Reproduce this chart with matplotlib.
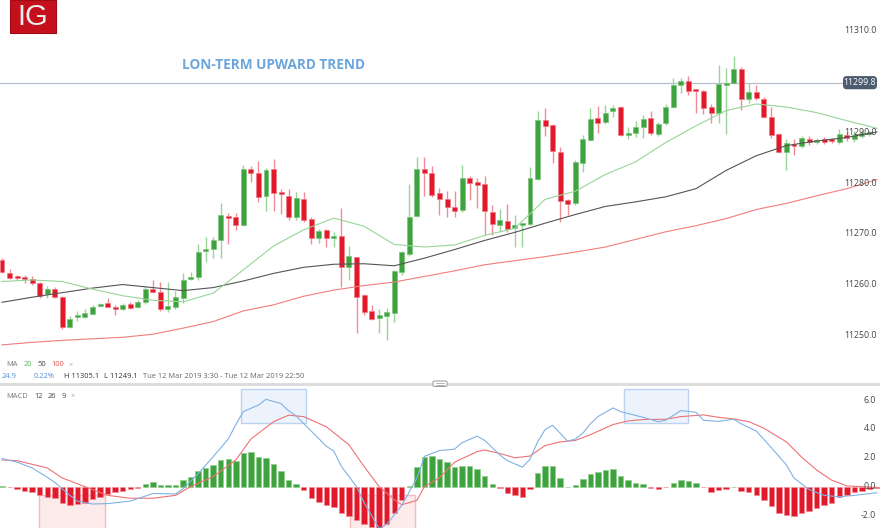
import numpy as np
import matplotlib
matplotlib.use('Agg')
import matplotlib.pyplot as plt
from matplotlib.patches import Rectangle, FancyBboxPatch
from matplotlib.lines import Line2D
import matplotlib.transforms as mtransforms

# ---- price data, one candle per 10 min ----
opens = [11264.8, 11262.3, 11261.5, 11261.5, 11261.1, 11260.3, 11258.1, 11259.1, 11257.5, 11251.6,
         11253.6, 11253.6, 11254.2, 11255.8, 11256.4, 11255.6, 11255.2, 11256.2, 11255.6, 11256.5,
         11259.1, 11258.5, 11255.2, 11255.6, 11257.3, 11261.1, 11261.5, 11266.6, 11267.0, 11268.8,
         11273.5, 11273.3, 11271.7, 11282.8, 11282.0, 11277.5, 11282.8, 11278.0, 11277.5, 11273.3,
         11276.9, 11272.9, 11269.2, 11270.7, 11269.2, 11269.6, 11263.4, 11265.4, 11257.9, 11254.8,
         11253.4, 11253.8, 11254.4, 11262.5, 11266.0, 11273.5, 11282.8, 11282.0, 11278.0, 11276.9,
         11275.3, 11274.7, 11281.0, 11280.2, 11279.8, 11274.3, 11271.7, 11272.5, 11271.1, 11271.7,
         11271.9, 11280.8, 11292.4, 11291.5, 11286.1, 11276.7, 11276.1, 11284.0, 11288.5, 11292.8,
         11292.0, 11294.2, 11295.0, 11289.5, 11289.9, 11291.1, 11292.8, 11289.7, 11291.9, 11295.0,
         11299.4, 11300.1, 11298.4, 11298.2, 11295.0, 11293.8, 11299.4, 11299.7, 11302.5, 11296.6,
         11298.0, 11296.6, 11293.0, 11289.7, 11286.1, 11287.7, 11287.3, 11288.7, 11288.1, 11288.7,
         11288.7, 11288.1, 11289.5, 11288.7, 11289.3, 11289.7]
highs = [11265.2, 11263.1, 11261.9, 11261.9, 11261.7, 11260.5, 11259.7, 11259.5, 11257.7, 11253.8,
         11254.8, 11255.2, 11256.0, 11256.4, 11257.3, 11256.0, 11256.4, 11256.5, 11256.9, 11259.7,
         11260.9, 11260.5, 11260.5, 11258.7, 11262.3, 11262.5, 11268.0, 11269.4, 11269.4, 11276.1,
         11274.1, 11274.1, 11283.6, 11283.4, 11284.4, 11283.0, 11284.8, 11278.8, 11278.8, 11278.2,
         11278.2, 11273.3, 11270.9, 11270.9, 11270.4, 11275.1, 11267.6, 11265.5, 11258.1, 11256.0,
         11255.2, 11255.4, 11262.9, 11266.6, 11279.8, 11285.1, 11285.1, 11283.4, 11279.0, 11278.4,
         11278.4, 11283.6, 11281.4, 11281.0, 11281.4, 11275.7, 11274.9, 11275.9, 11273.7, 11272.2,
         11283.2, 11294.2, 11294.8, 11291.7, 11287.1, 11276.9, 11284.6, 11289.5, 11294.8, 11295.2,
         11295.4, 11295.4, 11295.2, 11291.1, 11292.2, 11293.4, 11294.2, 11292.0, 11295.6, 11300.7,
         11300.7, 11301.1, 11298.6, 11298.4, 11295.6, 11303.3, 11302.7, 11305.1, 11302.9, 11299.7,
         11299.4, 11297.0, 11295.0, 11289.9, 11288.7, 11288.7, 11289.3, 11289.3, 11288.9, 11289.1,
         11288.9, 11290.7, 11290.1, 11290.3, 11290.5, 11290.5]
lows = [11262.3, 11261.1, 11260.9, 11260.3, 11259.9, 11257.3, 11257.3, 11257.3, 11251.2, 11251.4,
        11252.8, 11253.4, 11254.0, 11255.6, 11255.6, 11254.0, 11255.0, 11255.2, 11255.4, 11256.2,
        11258.3, 11254.8, 11254.6, 11255.2, 11256.4, 11260.9, 11260.9, 11264.4, 11265.2, 11265.2,
        11268.0, 11270.7, 11271.5, 11280.2, 11276.3, 11274.5, 11274.5, 11273.9, 11272.7, 11272.7,
        11272.3, 11268.0, 11268.2, 11267.4, 11267.4, 11259.5, 11260.9, 11250.4, 11254.0, 11253.0,
        11250.4, 11249.1, 11252.6, 11261.9, 11265.6, 11273.3, 11277.5, 11277.3, 11273.7, 11273.3,
        11273.3, 11274.3, 11276.7, 11275.1, 11269.8, 11269.8, 11270.4, 11270.4, 11267.4, 11267.4,
        11271.7, 11280.6, 11289.3, 11284.0, 11272.3, 11273.7, 11275.7, 11282.2, 11288.3, 11289.9,
        11291.7, 11293.0, 11289.3, 11288.7, 11289.1, 11288.9, 11289.5, 11289.3, 11291.5, 11294.8,
        11297.8, 11297.4, 11293.8, 11293.6, 11291.9, 11291.9, 11289.7, 11299.5, 11294.4, 11295.8,
        11296.4, 11292.8, 11288.9, 11285.9, 11282.6, 11285.5, 11286.9, 11287.5, 11287.7, 11287.7,
        11287.9, 11287.7, 11288.3, 11288.1, 11288.9, 11289.3]
closes = [11262.5, 11261.3, 11261.3, 11261.1, 11260.3, 11257.7, 11259.1, 11257.5, 11251.6, 11253.2,
          11253.8, 11254.4, 11255.6, 11256.2, 11255.6, 11255.2, 11256.0, 11255.4, 11256.5, 11259.1,
          11258.5, 11255.2, 11255.8, 11257.5, 11260.9, 11261.5, 11266.4, 11267.0, 11268.8, 11273.7,
          11273.1, 11271.7, 11282.8, 11282.0, 11277.3, 11282.6, 11278.0, 11277.8, 11273.3, 11277.1,
          11272.7, 11269.2, 11270.6, 11269.2, 11269.6, 11263.4, 11265.6, 11257.5, 11254.6, 11253.2,
          11254.0, 11254.6, 11262.7, 11266.4, 11273.3, 11282.8, 11282.0, 11277.6, 11276.9, 11275.3,
          11274.5, 11281.0, 11280.0, 11279.6, 11274.5, 11271.9, 11272.7, 11270.9, 11271.7, 11272.1,
          11281.0, 11292.4, 11291.3, 11286.3, 11276.5, 11275.9, 11284.2, 11288.7, 11292.6, 11291.9,
          11293.8, 11294.8, 11289.5, 11289.9, 11291.1, 11292.6, 11289.9, 11291.7, 11295.0, 11299.4,
          11300.1, 11298.2, 11298.2, 11294.8, 11293.8, 11299.5, 11299.7, 11302.5, 11296.6, 11298.0,
          11296.8, 11293.0, 11289.5, 11286.1, 11287.9, 11287.3, 11288.9, 11288.1, 11288.5, 11288.1,
          11288.3, 11289.7, 11288.9, 11289.5, 11289.9, 11290.0]

# moving averages, read every 4 candles
ma_idx = list(range(0, 117, 4))
ma20 = [11260.6, 11260.9, 11260.6, 11259.1, 11257.8, 11256.9, 11256.6, 11258.3, 11262.9, 11267.6,
        11270.8, 11273.1, 11271.5, 11267.9, 11267.4, 11267.8, 11269.7, 11271.1, 11276.8, 11278.4,
        11281.7, 11284.2, 11288.0, 11291.3, 11294.3, 11295.6, 11295.0, 11293.9, 11292.3, 11290.8]
ma50 = [11256.5, 11257.5, 11258.4, 11259.3, 11260.0, 11259.4, 11258.8, 11259.4, 11260.7, 11262.2,
        11263.4, 11264.0, 11264.1, 11263.7, 11265.2, 11266.9, 11268.7, 11270.3, 11272.1, 11273.8,
        11275.4, 11276.3, 11277.3, 11278.9, 11282.5, 11285.4, 11287.4, 11288.3, 11289.0, 11290.1]
ma100 = [11248.1, 11248.6, 11249.0, 11249.3, 11249.6, 11250.2, 11251.4, 11252.7, 11254.8, 11256.0,
         11257.7, 11258.9, 11259.8, 11260.5, 11261.6, 11262.7, 11263.9, 11264.7, 11265.5, 11266.4,
         11267.4, 11268.9, 11270.4, 11271.6, 11273.0, 11274.8, 11276.0, 11277.5, 11278.9, 11280.7]

# MACD (12, 26, 9)
hist = [0.03, -0.05, -0.15, -0.3, -0.4, -0.6, -0.7, -0.75, -1.15, -1.25,
        -1.2, -1.1, -0.85, -0.7, -0.5, -0.4, -0.28, -0.18, -0.1, 0.18,
        0.3, 0.15, 0.12, 0.15, 0.45, 0.65, 1.1, 1.3, 1.5, 1.85,
        1.9, 1.8, 2.3, 2.4, 2.05, 2.0, 1.55, 1.1, 0.45, 0.22,
        -0.23, -0.8, -1.05, -1.3, -1.4, -1.8, -2.05, -2.3, -2.6, -2.8,
        -2.85, -2.6, -1.8, -0.95, 0.05, 1.35, 2.05, 2.1, 1.95, 1.7,
        1.35, 1.45, 1.4, 1.25, 0.75, 0.2, -0.12, -0.45, -0.6, -0.7,
        -0.15, 0.95, 1.45, 1.4, 0.6, 0.0, 0.15, 0.5, 0.9, 1.05,
        1.15, 1.2, 0.75, 0.45, 0.25, 0.18, -0.07, -0.15, -0.03, 0.28,
        0.45, 0.4, 0.28, -0.05, -0.4, -0.23, -0.15, 0.0, -0.28, -0.4,
        -0.6, -0.95, -1.35, -1.8, -1.95, -2.0, -1.8, -1.65, -1.45, -1.3,
        -1.1, -0.7, -0.6, -0.4, -0.28, -0.18, -0.1]
macd_idx = [0, 2, 4, 6, 7, 9, 10, 12, 14, 17, 19, 20, 23, 24, 26, 28, 30, 31, 32, 34, 35, 37, 38, 39,
            41, 43, 44, 45, 47, 48, 50, 51, 53, 55, 56, 58, 60, 61, 63, 64, 66, 67, 69, 70, 71, 72,
            73, 75, 76, 77, 78, 79, 81, 82, 85, 87, 88, 90, 92, 93, 95, 97, 98, 100, 102, 104, 105,
            107, 109, 111, 113, 116]
macd_line = [1.95, 1.7, 1.3, 0.65, 0.3, -0.6, -1.0, -1.2, -1.17, -1.0, -0.65, -0.47, -0.5, -0.15,
             0.9, 2.08, 3.3, 4.3, 5.2, 5.65, 6.05, 5.75, 5.25, 4.9, 3.85, 2.8, 2.45, 1.4, 0.0, -1.1,
             -2.9, -2.6, -1.3, 0.6, 2.1, 2.5, 2.6, 3.05, 3.5, 3.2, 2.2, 1.8, 1.35, 1.9, 3.1, 3.95,
             4.25, 3.15, 3.3, 3.7, 4.35, 4.85, 5.45, 5.2, 4.8, 4.5, 4.6, 5.27, 5.15, 4.6, 4.52, 4.67,
             4.35, 3.85, 2.7, 1.5, 0.6, -0.2, -0.6, -0.7, -0.6, -0.42]
sig_idx = [0, 2, 6, 8, 11, 14, 17, 20, 23, 25, 28, 31, 33, 36, 38, 40, 43, 46, 48, 50, 52, 53, 55,
           56, 58, 60, 63, 64, 66, 68, 70, 72, 74, 76, 78, 81, 83, 85, 88, 90, 93, 95, 97, 99, 101,
           104, 106, 108, 110, 112, 114, 116]
signal = [1.85, 1.8, 1.3, 0.6, 0.0, -0.6, -0.8, -0.8, -0.6, 0.0, 0.7, 1.85, 3.3, 4.5, 4.95, 4.85,
          4.15, 2.9, 1.4, 0.0, -0.9, -1.25, -0.95, 0.0, 0.62, 1.7, 2.43, 2.54, 2.3, 2.0, 2.12, 2.85,
          3.1, 3.2, 3.6, 4.3, 4.55, 4.65, 4.67, 4.85, 4.97, 4.8, 4.69, 4.5, 4.05, 3.1, 2.05, 1.15,
          0.45, 0.05, 0.0, -0.05]

# highlight boxes on the MACD pane: (x0, x1, y0, y1) in candle / MACD units
peak_boxes = [(31.7, 40.3, 4.42, 6.78), (82.4, 91.0, 4.42, 6.78)]
trough_boxes = [(4.95, 13.7, -3.5, -0.56), (46.2, 54.8, -3.5, -0.56)]

price_ticks = [11310.0, 11290.0, 11280.0, 11270.0, 11260.0, 11250.0]
macd_ticks = [6.0, 4.0, 2.0, 0.0, -2.0]
last_price = 11299.8

GREEN = '#3ea33e'
RED = '#e2182b'
FONT = ['Open Sans', 'DejaVu Sans']

W, H = 880, 528
fig = plt.figure(figsize=(8.8, 5.28), dpi=100)
fig.patch.set_facecolor('white')


def fx(px):
    return px / W


def fy(py):
    return 1 - py / H


xlim = (-0.265, 116.4)

# ---------- price pane ----------
ax = fig.add_axes([0, fy(352), 1, 352 / H])
ax.set_xlim(*xlim)
ax.set_ylim(11246.7, 11316.1)
ax.axis('off')

idx = np.arange(len(opens))
o = np.array(opens)
c = np.array(closes)
up = c >= o
cols = np.where(up, GREEN, RED)
wick_cols = np.where(up, '#9ad49a', '#f08c95')
ax.vlines(idx, lows, highs, colors=wick_cols, linewidth=1.0, zorder=2)
body_h = np.maximum(np.abs(c - o), 0.35)
ax.bar(idx, body_h, bottom=np.minimum(o, c), width=0.66, color=cols,
       edgecolor=np.where(up, '#7cc47c', '#ee7a85'), linewidth=0.5, zorder=3)

ax.plot(ma_idx, ma100, color='#f27c7c', lw=0.8, zorder=4)
ax.plot(ma_idx, ma50, color='#555555', lw=0.8, zorder=4)
ax.plot(ma_idx, ma20, color='#98d498', lw=0.8, zorder=4)

# last price line + label
ax.plot([xlim[0], 111.3], [last_price, last_price], color='#b4bdc8', lw=0.9, zorder=1)
ytrans = mtransforms.blended_transform_factory(ax.transAxes, ax.transData)
for t in price_ticks:
    ax.text(fx(877), t, f'{t:.1f}', transform=ytrans, ha='right', va='center',
            fontsize=6.3, color='#444444', family=FONT, zorder=6)
box = FancyBboxPatch((fx(843), last_price - 1.3), fx(877) - fx(843), 2.6,
                     boxstyle='round,pad=0,rounding_size=0.004', transform=ytrans,
                     facecolor='#4c5b70', edgecolor='none', zorder=6, mutation_aspect=200)
ax.add_patch(box)
ax.text(fx(860), last_price, f'{last_price:.1f}', transform=ytrans, ha='center',
        va='center', fontsize=6.3, color='white', family=FONT, zorder=7)

# ---------- MACD pane ----------
mx = fig.add_axes([0, 0, 1, 142 / H])
mx.set_xlim(*xlim)
mx.set_ylim(-2.86, 6.97)
mx.axis('off')

for x0, x1, y0, y1 in peak_boxes:
    mx.add_patch(Rectangle((x0, y0), x1 - x0, y1 - y0, facecolor='#edf3fc',
                           edgecolor='#bcd3ef', lw=1, zorder=1))
for x0, x1, y0, y1 in trough_boxes:
    mx.add_patch(Rectangle((x0, y0), x1 - x0, y1 - y0, facecolor='#fdeaea',
                           edgecolor='#f3bcbc', lw=1, zorder=1))

hv = np.array(hist)
hidx = np.arange(len(hist))
mx.bar(hidx, hv, width=0.72, color=np.where(hv >= 0, GREEN, RED),
       edgecolor=np.where(hv >= 0, '#8fcf8f', '#f08c95'), linewidth=0.5, zorder=2)
mx.plot(sig_idx, signal, color='#ee7275', lw=0.8, zorder=3)
mx.plot(macd_idx, macd_line, color='#80b2e4', lw=0.8, zorder=4)

ytrans2 = mtransforms.blended_transform_factory(mx.transAxes, mx.transData)
for t in macd_ticks:
    mx.text(fx(876), t, f'{t:.1f}', transform=ytrans2, ha='right', va='center',
            fontsize=6.3, color='#444444', family=FONT, zorder=6)

# ---------- separators and header texts ----------
fig.add_artist(Rectangle((0, fy(385.5)), 1, 2.5 / H, transform=fig.transFigure,
                         facecolor='#dddddd', edgecolor='none'))
fig.add_artist(FancyBboxPatch((fx(433), fy(386.5)), 14 / W, 5.5 / H,
                              boxstyle='round,pad=0,rounding_size=0.002',
                              transform=fig.transFigure, facecolor='white',
                              edgecolor='#999999', lw=0.7))
for yy in (382.8, 384.6):
    fig.add_artist(Line2D([fx(436), fx(444)], [fy(yy), fy(yy)], color='#999999', lw=0.5))

# IG logo
fig.add_artist(Rectangle((fx(10), fy(33)), 46 / W, 33 / H, transform=fig.transFigure,
                         facecolor='#c4101d', edgecolor='#a00c16', lw=0.8))
fig.text(fx(33), fy(17), 'IG', ha='center', va='center', fontsize=21, color='#eeeeee',
         family=['Liberation Sans', 'DejaVu Sans'])

fig.text(fx(274), fy(65), 'LON-TERM UPWARD TREND', ha='center', va='center', fontsize=9.8,
         fontweight='bold', color='#6aa6dc', family=['Open Sans', 'DejaVu Sans'])


def row(y, parts):
    for x, s, col in parts:
        fig.text(fx(x), fy(y), s, ha='left', va='center', fontsize=5.4, color=col, family=FONT)


row(365, [(6, 'MA', '#777777'), (24, '20', '#5cb85c'), (37, '50', '#444444'),
          (51, '100', '#e05555'), (69, '\u00d7', '#aaaaaa')])
row(377, [(2, '24.9', '#4a8fd8'), (34, '0.22%', '#4a8fd8'), (64, 'H 11305.1', '#333333'),
          (104, 'L 11249.1', '#333333'),
          (143, 'Tue 12 Mar 2019 3:30 - Tue 12 Mar 2019 22:50', '#666666')])
row(396, [(6, 'MACD', '#777777'), (34, '12', '#444444'), (48, '26', '#444444'),
          (62, '9', '#444444'), (71, '\u00d7', '#aaaaaa')])

fig.savefig('out.png', dpi=100, facecolor='white')
